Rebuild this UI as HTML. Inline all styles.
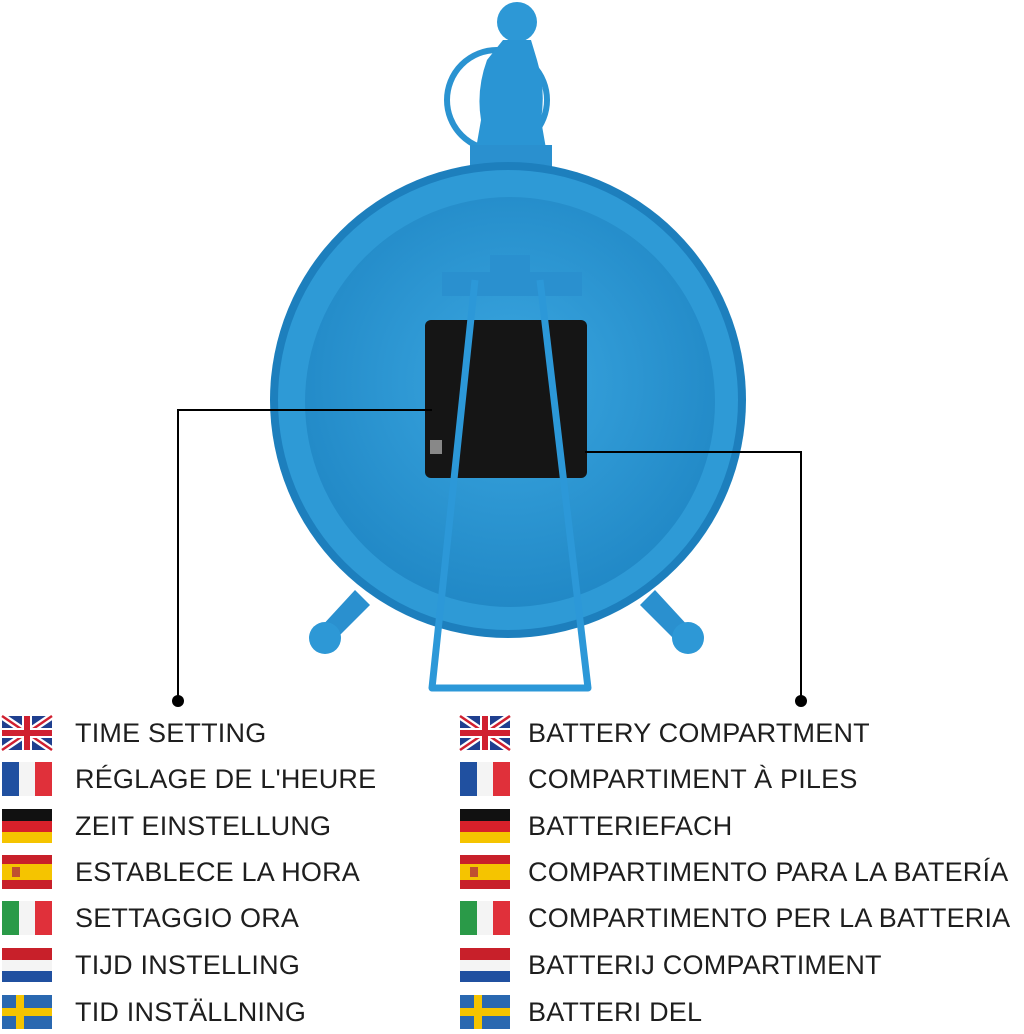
<!DOCTYPE html>
<html><head><meta charset="utf-8"><style>
html,body{margin:0;padding:0;background:#fff;}
body{width:1024px;height:1034px;position:relative;overflow:hidden;font-family:"Liberation Sans",sans-serif;}
.t{position:absolute;font-size:27px;color:#1e1e1e;letter-spacing:0.2px;line-height:30px;white-space:nowrap;}
</style></head><body>
<svg width="1024" height="1034" style="position:absolute;left:0;top:0">
<defs>
<radialGradient id="g" cx="50%" cy="45%" r="60%">
<stop offset="0" stop-color="#3aa6e0"/><stop offset="1" stop-color="#1f86c4"/></radialGradient>
</defs>
<circle cx="497" cy="100" r="50" fill="none" stroke="#2a93d1" stroke-width="6"/>
<circle cx="517" cy="22" r="20" fill="#2d98d6"/>
<path d="M503 40 L531 40 L537 60 Q546 90 541 120 L548 160 L474 160 L481 120 Q476 90 487 60 Z" fill="#2a95d4"/>
<rect x="470" y="145" width="82" height="22" fill="#2a90cf"/>
<path d="M355 590 L320 628 L335 640 L370 605 Z" fill="#2a90cf"/>
<circle cx="325" cy="638" r="16" fill="#2d98d6"/>
<path d="M655 590 L690 628 L675 640 L640 605 Z" fill="#2a90cf"/>
<circle cx="688" cy="638" r="16" fill="#2d98d6"/>
<circle cx="508" cy="400" r="238" fill="#1d7fbd"/>
<circle cx="508" cy="400" r="230" fill="#2e9ad6"/>
<circle cx="510" cy="402" r="205" fill="url(#g)"/>
<rect x="425" y="320" width="162" height="158" rx="6" fill="#151515"/>
<rect x="430" y="440" width="12" height="14" fill="#888"/>
<rect x="442" y="272" width="140" height="24" fill="#2a90cf"/>
<rect x="490" y="255" width="40" height="22" fill="#2a90cf"/>
<path d="M475 280 L432 688 L588 688 L540 280" fill="none" stroke="#2c98d8" stroke-width="7" stroke-linejoin="round"/>
<polyline points="432,410 178,410 178,700" fill="none" stroke="#000" stroke-width="2"/>
<circle cx="178" cy="701" r="6" fill="#000"/>
<polyline points="585,452 801,452 801,700" fill="none" stroke="#000" stroke-width="2"/>
<circle cx="801" cy="701" r="6" fill="#000"/>
<g id="flags"></g>
</svg>
<script>
(function(){
var rows=[733,779,826,872,918,965,1012];
var ns="http://www.w3.org/2000/svg",g=document.getElementById('flags');
function r(x,y,w,h,c){var e=document.createElementNS(ns,'rect');e.setAttribute('x',x);e.setAttribute('y',y);e.setAttribute('width',w);e.setAttribute('height',h);e.setAttribute('fill',c);g.appendChild(e);}
function flag(x,y,k){var w=50,h=34;y=y-17;
if(k==0){r(x,y,w,h,'#1f3f8f');var l=document.createElementNS(ns,'path');l.setAttribute('d','M'+x+' '+y+'L'+(x+w)+' '+(y+h)+'M'+(x+w)+' '+y+'L'+x+' '+(y+h));l.setAttribute('stroke','#fff');l.setAttribute('stroke-width','7');g.appendChild(l);var l2=l.cloneNode();l2.setAttribute('stroke','#d02030');l2.setAttribute('stroke-width','2.5');g.appendChild(l2);r(x,y+12,w,10,'#fff');r(x+20,y,10,h,'#fff');r(x,y+14,w,6,'#d02030');r(x+22,y,6,h,'#d02030');}
if(k==1){r(x,y,17,h,'#2050a0');r(x+17,y,16,h,'#f4f4f4');r(x+33,y,17,h,'#e0303a');}
if(k==2){r(x,y,w,12,'#111');r(x,y+12,w,11,'#d8202a');r(x,y+23,w,11,'#f5c400');}
if(k==3){r(x,y,w,9,'#c8202a');r(x,y+9,w,16,'#f5c400');r(x,y+25,w,9,'#c8202a');r(x+10,y+12,8,10,'#c05030');}
if(k==4){r(x,y,17,h,'#2a9a48');r(x+17,y,16,h,'#f4f4f4');r(x+33,y,17,h,'#e0303a');}
if(k==5){r(x,y,w,12,'#c8202a');r(x,y+12,w,11,'#f4f4f4');r(x,y+23,w,11,'#2050a0');}
if(k==6){r(x,y,w,h,'#2a68b0');r(x,y+13,w,8,'#f5c400');r(x+14,y,8,h,'#f5c400');}
}
rows.forEach(function(y,i){flag(2,y,i);flag(460,y,i);});
})();
</script>
<div class="t" style="left:75px;top:718px">TIME SETTING</div>
<div class="t" style="left:75px;top:764px">RÉGLAGE DE L'HEURE</div>
<div class="t" style="left:75px;top:811px">ZEIT EINSTELLUNG</div>
<div class="t" style="left:75px;top:857px">ESTABLECE LA HORA</div>
<div class="t" style="left:75px;top:903px">SETTAGGIO ORA</div>
<div class="t" style="left:75px;top:950px">TIJD INSTELLING</div>
<div class="t" style="left:75px;top:997px">TID INSTÄLLNING</div>
<div class="t" style="left:528px;top:718px">BATTERY COMPARTMENT</div>
<div class="t" style="left:528px;top:764px">COMPARTIMENT À PILES</div>
<div class="t" style="left:528px;top:811px">BATTERIEFACH</div>
<div class="t" style="left:528px;top:857px">COMPARTIMENTO PARA LA BATERÍA</div>
<div class="t" style="left:528px;top:903px">COMPARTIMENTO PER LA BATTERIA</div>
<div class="t" style="left:528px;top:950px">BATTERIJ COMPARTIMENT</div>
<div class="t" style="left:528px;top:997px">BATTERI DEL</div>
</body></html>
